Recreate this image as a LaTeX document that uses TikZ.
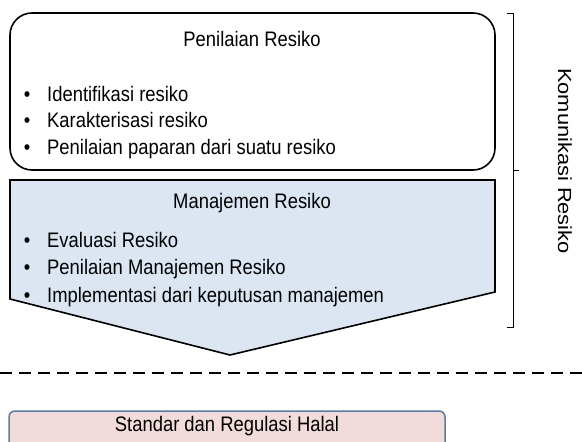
\documentclass[tikz,border=0pt]{standalone}
\usepackage{fontspec}
\setmainfont{Liberation Sans}
\newfontfamily\narrowf{Liberation Sans}[FakeStretch=0.877]
\newfontfamily\widef{Liberation Sans}[FakeStretch=1.15]
\definecolor{mblue}{HTML}{DCE6F2}
\definecolor{mpink}{HTML}{F2DCDB}
\definecolor{mpinkline}{HTML}{5B7BA6}
\begin{document}
\begin{tikzpicture}[x=1pt,y=-1pt,
  txt/.style={inner sep=0pt,font=\narrowf\fontsize{21}{23}\selectfont},
  item/.style={txt,anchor=base west},
  bul/.style={txt,anchor=base},
  title/.style={txt,anchor=base},
  frame/.style={draw=black,line width=1.6pt}]
\useasboundingbox (0,0) rectangle (582,442);
\clip (0,0) rectangle (582,442);
% top box
\draw[frame,rounded corners=22pt,fill=white] (10,13) rectangle (495,170);
\node[title] (t1) at (252,46) {Penilaian Resiko};
\node[bul] (b1) at (27,101) {•};
\node[item] (i1) at (47,101) {Identifikasi resiko};
\node[bul] (b2) at (27,127) {•};
\node[item] (i2) at (47,127) {Karakterisasi resiko};
\node[bul] (b3) at (27,154) {•};
\node[item] (i3) at (47,154) {Penilaian paparan dari suatu resiko};
% blue pentagon
\draw[frame,fill=mblue,line join=miter] (10,180) -- (495,180) -- (495,292) -- (230,355) -- (10,299) -- cycle;
\node[title] (t2) at (252,208) {Manajemen Resiko};
\node[bul] (b4) at (27,247) {•};
\node[item] (i4) at (47,247) {Evaluasi Resiko};
\node[bul] (b5) at (27,274) {•};
\node[item] (i5) at (47,274) {Penilaian Manajemen Resiko};
\node[bul] (b6) at (27,302) {•};
\node[item] (i6) at (47,302) {Implementasi dari keputusan manajemen};
% bracket
\coordinate (bt) at (507,13);
\coordinate (bb) at (507,327);
\draw[line width=0.8pt] (bt) -- (513,13) -- (513,327) -- (bb);
\draw[line width=0.8pt] (513,170) -- (519,170);
\node[inner sep=0pt,font=\widef\fontsize{19}{21}\selectfont,rotate=-90] (kom) at (565,161) {Komunikasi Resiko};
% dashed line
\coordinate (dl) at (0,373);
\coordinate (dr) at (582,373);
\draw[line width=2pt,dash pattern=on 12pt off 7pt] (dl) -- (dr);
% pink box
\draw[draw=mpinkline,line width=1.5pt,fill=mpink,rounded corners=6pt] (9,411) rectangle (445,470);
\node[title] (t3) at (227,431) {Standar dan Regulasi Halal};
\end{tikzpicture}
\end{document}
